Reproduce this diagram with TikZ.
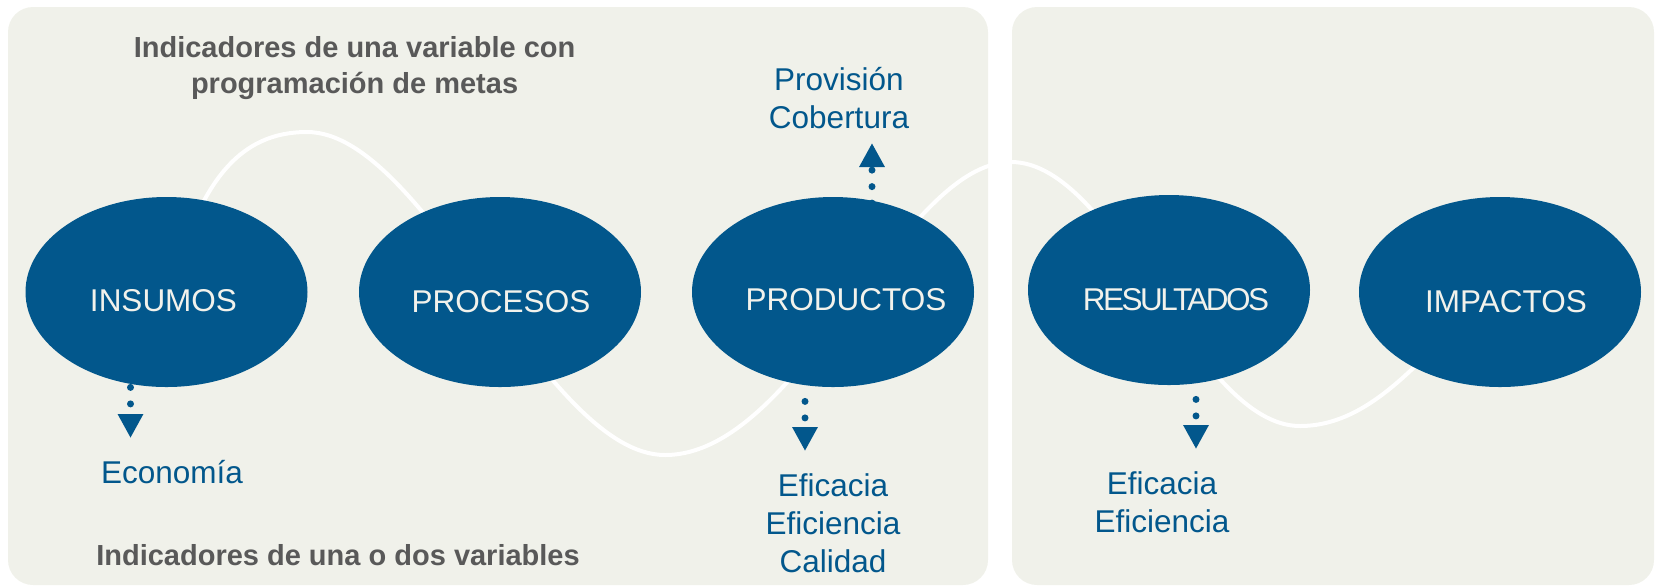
\documentclass[tikz,border=0pt]{standalone}
\usepackage{fontspec}
\setmainfont{Liberation Sans}
\newfontfamily\tightfont[LetterSpace=-8]{Liberation Sans}
\usetikzlibrary{arrows.meta,shapes.geometric,calc}
\definecolor{panelbg}{HTML}{F0F1EA}
\definecolor{navy}{HTML}{02578C}
\definecolor{labelgray}{HTML}{595959}
\definecolor{ovaltext}{HTML}{F2F2EC}
\pgfdeclarelayer{back}
\pgfsetlayers{back,main}
\begin{document}
\begin{tikzpicture}[x=0.5pt,y=-0.5pt,
  panel/.style={fill=panelbg, draw=none, rounded corners=12.5pt},
  wave/.style={draw=white, line width=2pt},
  oval/.style={ellipse, fill=navy, draw=none, minimum width=141pt, minimum height=95pt, inner sep=0pt},
  ovallabel/.style={text=ovaltext, font=\fontsize{15.75}{19}\selectfont, anchor=base, inner sep=0pt},
  bluetext/.style={text=navy, font=\fontsize{15.75}{19}\selectfont, align=center, inner sep=0pt},
  graytitle/.style={text=labelgray, font=\fontsize{14.5}{18}\selectfont\bfseries, align=center, inner sep=0pt},
  dotarrow/.style={draw=navy, line width=3.5pt, line cap=round, dash pattern=on 0pt off 8.25pt,
    -{Triangle[width=12pt,length=12pt,fill=navy]}}
]
\useasboundingbox (0,0) rectangle (1655,586);

% ellipses
\node[oval] (ins) at (166.5,292) {};
\node[oval] (pro) at (500,292) {};
\node[oval] (prd) at (833,292) {};
\node[oval] (res) at (1169,290) {};
\node[oval] (imp) at (1500,292) {};

% labels inside ellipses
\node[ovallabel] (insl) at (163.5,311) {INSUMOS};
\node[ovallabel] (prol) at (501,312) {PROCESOS};
\node[ovallabel] (prdl) at (846,310) {PRODUCTOS};
\node[ovallabel] (resl) at (1176,310) {\tightfont RESULTADOS};
\node[ovallabel] (impl) at (1506,312) {IMPACTOS};

% blue indicator texts
\node[bluetext, anchor=base] (econ) at (172,483) {Economía};
\node[bluetext, anchor=north] (provi) at (839,67) {Provisión\\Cobertura};
\node[bluetext, anchor=north] (efprd) at (833,473) {Eficacia\\Eficiencia\\Calidad};
\node[bluetext, anchor=north] (efres) at (1162,471) {Eficacia\\Eficiencia};

% gray titles
\node[graytitle, anchor=north] (t1) at (354.6,36) {Indicadores de una variable con\\programación de metas};
\node[graytitle, anchor=base] (t2) at (338,565) {Indicadores de una o dos variables};

% arrow tips
\coordinate (tipA) at (130.5,438);
\coordinate (tipB) at (805,451);
\coordinate (tipC) at (872,143);
\coordinate (tipD) at (1196,449);

\begin{pgfonlayer}{back}
  \fill[panel] (8,7) rectangle (988,585);
  \fill[panel] (1012,7) rectangle (1654,585);
  \draw[wave] (170,292) .. controls (200,180) and (240,132) .. (307,132)
    .. controls (425,132) and (545,455) .. (665,455)
    .. controls (800,455) and (900,162) .. (1011,162)
    .. controls (1116,162) and (1195,426) .. (1300,426)
    .. controls (1370,426) and (1420,360) .. (1480,300);
  \draw[dotarrow] (ins.south -| tipA) -- (tipA);
  \draw[dotarrow] ($(prd.south -| tipB)+(0,14)$) -- (tipB);
  \draw[dotarrow] ($(prd.north -| tipC)+(0,6.5)$) -- (tipC);
  \draw[dotarrow] ($(res.south -| tipD)+(0,14)$) -- (tipD);
\end{pgfonlayer}
\end{tikzpicture}
\end{document}
